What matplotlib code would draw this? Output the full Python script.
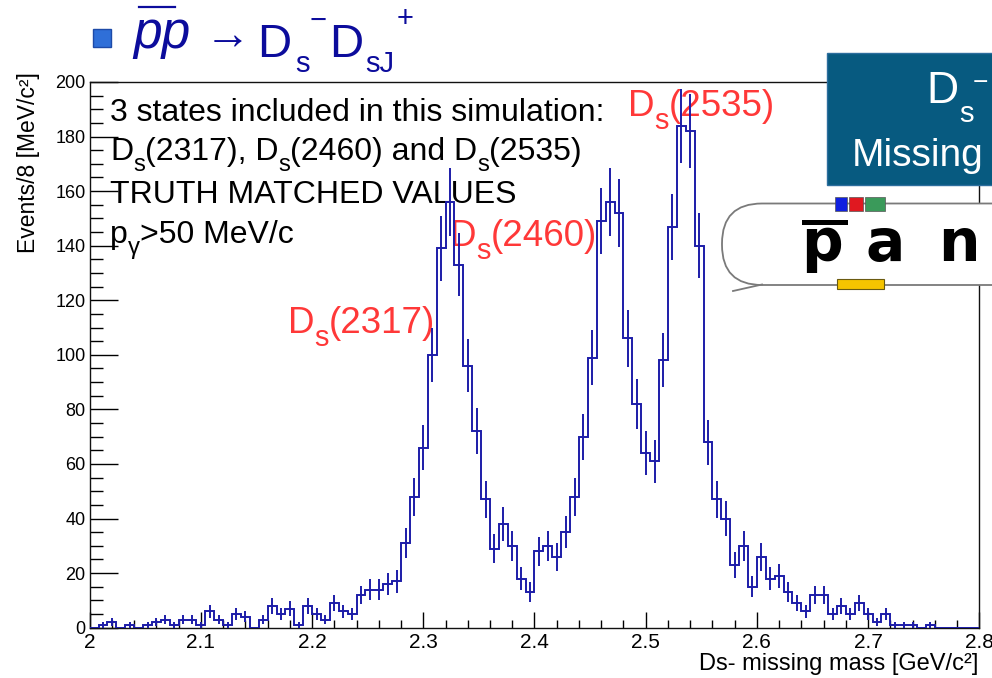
import numpy as np
import matplotlib
matplotlib.use("Agg")
import matplotlib.pyplot as plt
from matplotlib.patches import Rectangle, FancyBboxPatch
from matplotlib.lines import Line2D
from matplotlib.transforms import Affine2D
from matplotlib.ticker import MultipleLocator, FuncFormatter

plt.rcParams['font.family'] = ['Liberation Sans', 'DejaVu Sans']

# ---------------- data ----------------
x_min, x_max, n_bins = 2.0, 2.8, 100
counts = [0, 1, 2, 0, 1, 0, 1, 2, 3, 1,
          3, 3, 1, 6, 3, 1, 5, 4, 0, 3,
          8, 5, 7, 1, 8, 5, 3, 9, 6, 5,
          12, 14, 14, 16, 17, 31, 48, 66, 100, 139,
          156, 133, 96, 72, 47, 29, 38, 30, 18, 13,
          28, 30, 26, 35, 48, 70, 99, 149, 156, 152,
          106, 82, 64, 61, 98, 147, 184, 182, 140, 68,
          47, 40, 23, 30, 15, 26, 18, 19, 13, 9,
          6, 12, 12, 5, 8, 5, 9, 5, 2, 5,
          1, 1, 1, 0, 1, 0, 0, 0, 0, 0]
y_ticks_max = 200
peak_labels = ["(2317)", "(2460)", "(2535)"]
x_title = "Ds- missing mass [GeV/c\u00b2]"
y_title = "Events/8 [MeV/c\u00b2]"

# ---------------- figure ----------------
W, H, DPI = 992, 678, 100
fig = plt.figure(figsize=(W / DPI, H / DPI), dpi=DPI)
fig.patch.set_facecolor('white')
renderer = fig.canvas.get_renderer()
PX = Affine2D().scale(1 / W, -1 / H).translate(0, 1) + fig.transFigure


def fx(px):
    return px / W


def fy(py):
    return 1 - py / H


ax = fig.add_axes([fx(89.7), fy(627.7), (979.3 - 89.7) / W, (627.7 - 82) / H])
HC = '#1c1ca8'
edges = np.linspace(x_min, x_max, n_bins + 1)
centers = 0.5 * (edges[:-1] + edges[1:])
c = np.array(counts, dtype=float)
ax.stairs(c, edges, color=HC, lw=1.4, zorder=3)
nz = c > 0
err = np.sqrt(c)
ax.vlines(centers[nz], (c - err)[nz], (c + err)[nz], color=HC, lw=1.4, zorder=3)
ax.set_xlim(x_min, x_max)
ax.set_ylim(0, y_ticks_max)

ax.xaxis.set_major_locator(MultipleLocator(0.1))
ax.xaxis.set_minor_locator(MultipleLocator(0.02))
ax.yaxis.set_major_locator(MultipleLocator(20))
ax.yaxis.set_minor_locator(MultipleLocator(5))
ax.xaxis.set_major_formatter(FuncFormatter(lambda v, p: ('%.1f' % round(v, 3)).rstrip('0').rstrip('.')))
ax.tick_params(axis='y', which='major', direction='in', length=20, width=1, labelsize=13, pad=3)
ax.tick_params(axis='y', which='minor', direction='in', length=9.4, width=1)
ax.tick_params(axis='x', which='major', direction='in', length=11.5, width=1, labelsize=15, pad=4)
ax.tick_params(axis='x', which='minor', direction='in', length=5.5, width=1)
ax.tick_params(which='both', top=False, right=False)
for s in ax.spines.values():
    s.set_linewidth(1.0)
    s.set_color('#111111')

fig.text(fx(978), fy(664), x_title, ha='right', va='center', fontsize=17)
fig.text(fx(29), fy(72), y_title, ha='center', va='top', rotation=90, fontsize=16.5)


def rich(x, y, parts, size, color, drop=0.36, scale=0.75, zorder=2):
    """draw runs of normal/sub text starting at pixel x with baseline at pixel y"""
    for s, kind in parts:
        if kind == 'sub':
            fs, yy = size * scale, y + drop * size * DPI / 72
        else:
            fs, yy = size, y
        t = ax.text(fx(x), fy(yy), s, transform=fig.transFigure, fontsize=fs,
                    color=color, ha='left', va='baseline', zorder=zorder)
        x += t.get_window_extent(renderer).width
    return x


TS = 23
rich(110, 121, [("3 states included in this simulation:", 'n')], TS, 'black')
rich(110, 160, [("D", 'n'), ("s", 'sub'), ("(2317), D", 'n'), ("s", 'sub'),
                ("(2460) and D", 'n'), ("s", 'sub'), ("(2535)", 'n')], TS, 'black')
rich(110, 203, [("TRUTH MATCHED VALUES", 'n')], TS, 'black')
rich(110, 243, [("p", 'n'), ("\u03b3", 'sub'), (">50 MeV/c", 'n')], TS, 'black')

RED = '#ff3838'
for (px, py), lab in zip([(288, 333), (450, 246), (628, 116)], peak_labels):
    rich(px, py, [("D", 'n'), ("s", 'sub'), (lab, 'n')], 26.5, RED, scale=0.78)

# ---------------- title ----------------
TC = '#0c0c9c'
fig.add_artist(Rectangle((93, 29), 18, 18, transform=PX,
                         facecolor='#2f6fd8', edgecolor='#1d4aa8', lw=1))
fig.text(fx(133), fy(48), "pp", fontsize=37, style='italic', color=TC, va='baseline')
fig.add_artist(Line2D([139, 175], [7, 7], transform=PX, color=TC, lw=1.6))
fig.text(fx(205), fy(37), "\u2192", fontsize=33, color=TC, va='center', ha='left')
fig.text(fx(257), fy(57), "D", fontsize=34, color=TC, va='baseline')
fig.text(fx(295), fy(72), "s", fontsize=21, color=TC, va='baseline')
fig.text(fx(310), fy(21), "\u2212", fontsize=21, color=TC, va='center')
fig.text(fx(329), fy(57), "D", fontsize=34, color=TC, va='baseline')
fig.text(fx(365), fy(72), "sJ", fontsize=21, color=TC, va='baseline')
fig.text(fx(397), fy(19), "+", fontsize=21, color=TC, va='center')

# ---------------- blue box ----------------
fig.add_artist(Rectangle((826.5, 52.5), 180, 132, transform=PX, facecolor='#075a80',
                         edgecolor='#2d6e9e', lw=1, zorder=5))
fig.text(fx(926), fy(103), "D", fontsize=32, color='white', va='baseline', zorder=6)
fig.text(fx(959), fy(122), "s", fontsize=21, color='white', va='baseline', zorder=6)
fig.text(fx(973), fy(83), "\u2212", fontsize=19, color='white', va='center', zorder=6)
fig.text(fx(852), fy(166), "Missing", fontsize=28, color='white', va='baseline', zorder=6)

# ---------------- logo ----------------
fig.add_artist(FancyBboxPatch((722, 203.5), 330, 81.5,
                              boxstyle='round,pad=0,rounding_size=40',
                              transform=PX, facecolor='white',
                              edgecolor='#7a7a7a', lw=1.3, zorder=5))
fig.add_artist(Line2D([733, 762], [291, 284.5], transform=PX, color='#7a7a7a', lw=1.3, zorder=5))
for x0, x1, col in [(835, 847, '#1020e0'), (849, 863, '#e01820'), (865, 885, '#3a9a5a')]:
    fig.add_artist(Rectangle((x0, 197), x1 - x0, 14, transform=PX,
                             facecolor=col, edgecolor='#555555', lw=0.5, zorder=6))
fig.add_artist(Rectangle((836.5, 279), 47.5, 10, transform=PX,
                         facecolor='#f5c400', edgecolor='#6a5a10', lw=0.8, zorder=6))
fig.add_artist(Rectangle((802, 220), 46, 5, transform=PX,
                         facecolor='black', edgecolor='none', zorder=6))
for xl, ch in [(801, 'p'), (866, 'a'), (938, 'n')]:
    fig.text(fx(xl), fy(261), ch, fontsize=42, fontweight='bold', color='black',
             va='baseline', ha='left', zorder=7, family=['DejaVu Sans'])

fig.savefig('out.png', dpi=DPI)
